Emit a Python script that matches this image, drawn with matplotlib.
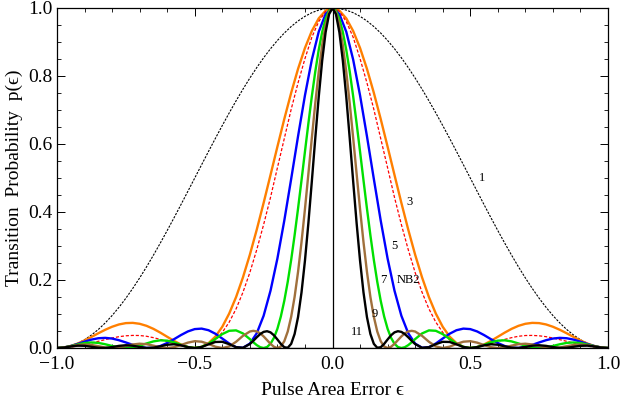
import numpy as np
import matplotlib
matplotlib.use("Agg")
import matplotlib.pyplot as plt
from matplotlib.ticker import MultipleLocator

plt.rcParams['font.family'] = ['Liberation Serif', 'DejaVu Serif']

# pulse area error, right half (curves are symmetric in eps)
eps_half = np.round(np.arange(41) * 0.025, 4)
# extra points between the coarse ones for the narrow lobes (eps = 0.0125 ... 0.2875)
eps_fine = np.round(0.0125 + np.arange(12) * 0.025, 4)

p1 = [1.0, 0.9985, 0.9938, 0.9862, 0.9755, 0.9619, 0.9455, 0.9263, 0.9045, 0.8802,
      0.8536, 0.8247, 0.7939, 0.7613, 0.7270, 0.6913, 0.6545, 0.6167, 0.5782, 0.5392,
      0.5, 0.4608, 0.4218, 0.3833, 0.3455, 0.3087, 0.2730, 0.2387, 0.2061, 0.1753,
      0.1464, 0.1198, 0.0955, 0.0737, 0.0545, 0.0381, 0.0245, 0.0138, 0.0062, 0.0015, 0.0]
p3 = [1.0, 0.9923, 0.9695, 0.9324, 0.8824, 0.8211, 0.7506, 0.6734, 0.5920, 0.5090,
      0.4268, 0.3479, 0.2743, 0.2078, 0.1498, 0.1013, 0.0625, 0.0336, 0.0142, 0.0033,
      0.0, 0.0028, 0.0103, 0.0209, 0.0330, 0.0452, 0.0563, 0.0652, 0.0712, 0.0739,
      0.0732, 0.0693, 0.0625, 0.0536, 0.0433, 0.0325, 0.0221, 0.0131, 0.0060, 0.0015, 0.0]
nb2 = [1.0, 0.990, 0.960, 0.914, 0.851, 0.780, 0.702, 0.616, 0.530, 0.443,
       0.363, 0.289, 0.222, 0.164, 0.115, 0.076, 0.046, 0.024, 0.0099, 0.0023,
       0.0, 0.0018, 0.0064, 0.0125, 0.0191, 0.0253, 0.0304, 0.0345, 0.0367, 0.0370,
       0.0359, 0.0333, 0.0294, 0.0246, 0.0197, 0.0146, 0.0100, 0.0059, 0.0027, 0.0007, 0.0]
p5 = [1.0, 0.9822, 0.9300, 0.8481, 0.7429, 0.6230, 0.4973, 0.3747, 0.2631, 0.1686,
      0.0948, 0.0433, 0.0129, 0.0007, 0.0025, 0.0132, 0.0278, 0.0419, 0.0523, 0.0570,
      0.0556, 0.0487, 0.0381, 0.0260, 0.0147, 0.0059, 0.0009, 0.0002, 0.0033, 0.0092,
      0.0163, 0.0229, 0.0278, 0.0298, 0.0287, 0.0247, 0.0186, 0.0119, 0.0058, 0.0015, 0.0]
p7 = [1.0, 0.9680, 0.8770, 0.7403, 0.5775, 0.4105, 0.2593, 0.1388, 0.0565, 0.0125,
      0.0, 0.0085, 0.0262, 0.0428, 0.0518, 0.0506, 0.0409, 0.0267, 0.0128, 0.0032,
      0.0, 0.0028, 0.0093, 0.0166, 0.0216, 0.0226, 0.0194, 0.0134, 0.0068, 0.0018,
      0.0, 0.0017, 0.0060, 0.0110, 0.0150, 0.0163, 0.0145, 0.0104, 0.0054, 0.0015, 0.0]
p9 = [1.0, 0.9501, 0.8122, 0.6178, 0.4086, 0.2243, 0.0918, 0.0199, 0.0, 0.0122,
      0.0341, 0.0487, 0.0485, 0.0358, 0.0183, 0.0047, 0.0, 0.0038, 0.0119, 0.0185,
      0.0200, 0.0158, 0.0087, 0.0024, 0.0, 0.0021, 0.0069, 0.0112, 0.0126, 0.0104,
      0.0059, 0.0017, 0.0, 0.0016, 0.0053, 0.0089, 0.0103, 0.0087, 0.0050, 0.0015, 0.0]
p11 = [1.0, 0.9286, 0.7384, 0.4904, 0.2567, 0.0912, 0.0122, 0.0023, 0.0251, 0.0460,
       0.0474, 0.0315, 0.0116, 0.0007, 0.0024, 0.0113, 0.0182, 0.0177, 0.0108, 0.0031,
       0.0, 0.0027, 0.0079, 0.0110, 0.0096, 0.0050, 0.0009, 0.0002, 0.0030, 0.0067,
       0.0081, 0.0063, 0.0027, 0.0002, 0.0007, 0.0036, 0.0064, 0.0069, 0.0046, 0.0014, 0.0]

p7_fine = [0.9919, 0.9292, 0.8132, 0.6608, 0.4932, 0.3319, 0.1946, 0.0927, 0.0300, 0.0029,
           0.0024, 0.0169]
p9_fine = [0.9873, 0.8906, 0.7196, 0.5124, 0.3113, 0.1505, 0.0484, 0.0045, 0.0036, 0.0232,
           0.0431, 0.0505]
p11_fine = [0.9817, 0.8451, 0.6170, 0.3677, 0.1634, 0.0413, 0.0007, 0.0121, 0.0374, 0.0494,
            0.0409, 0.0211]

curve_names = ['1', '3', 'NB2', '5', '7', '9', '11']
curve_data = [p1, p3, nb2, p5, p7, p9, p11]
curve_fine = [None, None, None, None, p7_fine, p9_fine, p11_fine]
curve_colors = ['black', '#ff7f00', '#ff0000', '#0000ff', '#00e000', '#a0703c', 'black']
curve_styles = [(0, (2, 1.2)), '-', (0, (2.5, 1.5)), '-', '-', '-', '-']
curve_widths = [0.8, 1.7, 0.9, 1.7, 1.7, 1.7, 1.7]

label_text = ['1', '3', '5', '7', 'NB2', '9', '11']
label_x = [0.542, 0.278, 0.223, 0.186, 0.274, 0.155, 0.089]
label_y = [0.50, 0.429, 0.299, 0.201, 0.201, 0.101, 0.047]


def mirror(y, fine=None):
    x = eps_half
    y = np.asarray(y)
    if fine is not None:
        x = np.concatenate([x, eps_fine])
        y = np.concatenate([y, fine])
        order = np.argsort(x)
        x, y = x[order], y[order]
    return np.concatenate([-x[::-1], x[1:]]), np.concatenate([y[::-1], y[1:]])


fig = plt.figure(figsize=(6.21, 4.07), dpi=100)
ax = fig.add_axes([57 / 621, 1 - 348 / 407, 551 / 621, 340 / 407])

for name, y, f, c, ls, lw in zip(curve_names, curve_data, curve_fine, curve_colors,
                                 curve_styles, curve_widths):
    x, yy = mirror(y, f)
    ax.plot(x, yy, color=c, linestyle=ls, linewidth=lw, solid_joinstyle='round')

ax.axvline(0, color='black', linewidth=0.9)
ax.axhline(0, color='black', linewidth=0.9)

for t, x, y in zip(label_text, label_x, label_y):
    ax.text(x, y, t, fontsize=9, ha='center', va='center')

ax.set_xlim(-1, 1)
ax.set_ylim(0, 1)
ax.xaxis.set_minor_locator(MultipleLocator(0.1))
ax.yaxis.set_minor_locator(MultipleLocator(0.05))
ax.set_xticks([-1, -0.5, 0, 0.5, 1.0])
ax.set_xticklabels(['\u22121.0', '\u22120.5', '0.0', '0.5', '1.0'])
ax.set_yticks([0, 0.2, 0.4, 0.6, 0.8, 1.0])
ax.set_yticklabels(['0.0', '0.2', '0.4', '0.6', '0.8', '1.0'])
ax.tick_params(which='both', direction='in', top=True, right=True, labelsize=14)
ax.tick_params(axis='x', pad=6)
ax.tick_params(axis='y', pad=3)
ax.tick_params(which='major', length=6, width=0.7)
ax.tick_params(which='minor', length=3, width=0.6)
for s in ax.spines.values():
    s.set_linewidth(0.9)

ax.set_xlabel('Pulse Area Error \u03f5', fontsize=14, labelpad=6)
ax.set_ylabel('Transition  Probability  p(\u03f5)', fontsize=14, labelpad=4)

fig.savefig('out.png', dpi=100)
